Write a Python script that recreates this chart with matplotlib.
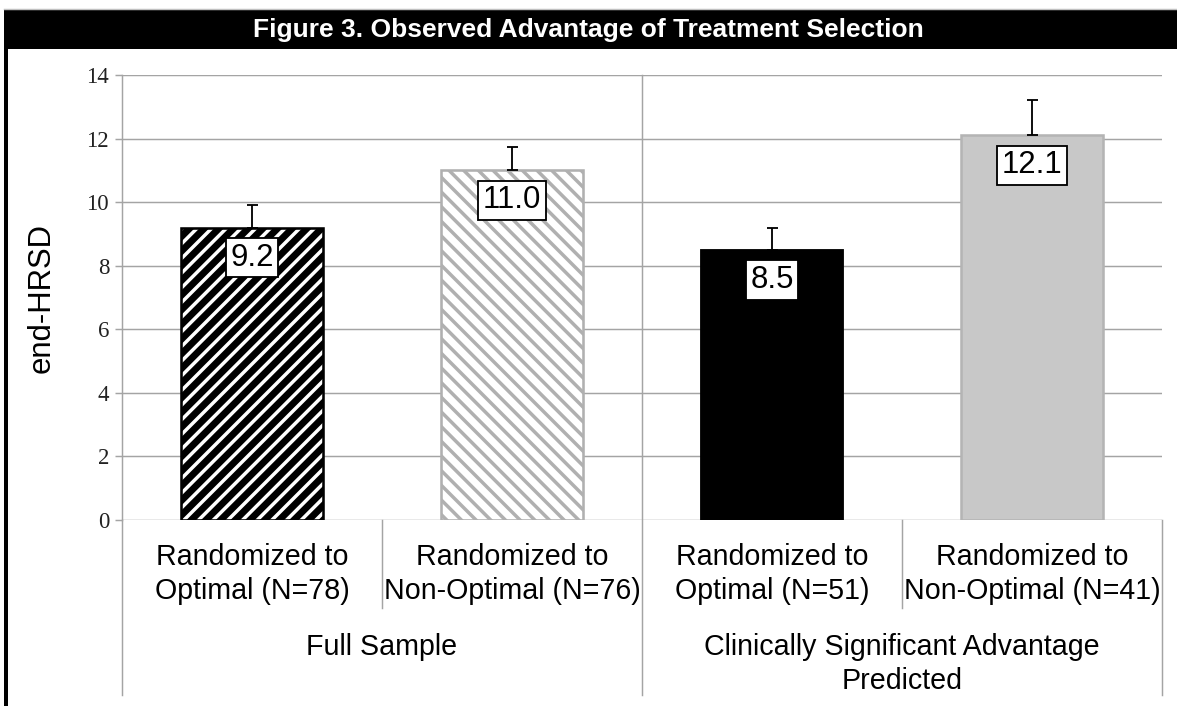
import numpy as np
import matplotlib.pyplot as plt
from matplotlib.patches import Rectangle
from matplotlib.lines import Line2D

# data
groups = ['Full Sample', 'Clinically Significant Advantage\nPredicted']
labels = ['Randomized to\nOptimal (N=78)', 'Randomized to\nNon-Optimal (N=76)',
          'Randomized to\nOptimal (N=51)', 'Randomized to\nNon-Optimal (N=41)']
means = [9.2, 11.0, 8.5, 12.1]
errs = [0.7, 0.75, 0.7, 1.1]

W, H, DPI = 1177, 706, 132
plt.rcParams['font.family'] = ['Liberation Sans', 'DejaVu Sans']
plt.rcParams['hatch.linewidth'] = 1.9

fig = plt.figure(figsize=(W / DPI, H / DPI), dpi=DPI)
ax = fig.add_axes([122 / W, 1 - 520 / H, 1040 / W, 445 / H])

grid_c = '#a4a4a4'
x = np.arange(len(means))
bw = 0.545

# bar 1: black with white stripes
ax.bar(x[0], means[0], bw, color='black', edgecolor='white', hatch='///', linewidth=0, zorder=2)
ax.bar(x[0], means[0], bw, fill=False, edgecolor='black', linewidth=1.4, zorder=3)
# bar 2: white with gray stripes
ax.bar(x[1], means[1], bw, color='white', edgecolor='#b0b0b0', hatch='\\\\\\', linewidth=0, zorder=2)
ax.bar(x[1], means[1], bw, fill=False, edgecolor='#b0b0b0', linewidth=1.4, zorder=3)
# bar 3, 4 solid
ax.bar(x[2], means[2], bw, color='black', edgecolor='black', linewidth=1.0, zorder=2)
ax.bar(x[3], means[3], bw, color='#c8c8c8', edgecolor='#b4b4b4', linewidth=1.4, zorder=2)

ax.errorbar(x, means, yerr=[np.zeros(len(errs)), errs], fmt='none', ecolor='black',
            elinewidth=1.0, capsize=3, capthick=1.0, zorder=4)

for xi, v in zip(x, means):
    ax.annotate(f'{v:.1f}', xy=(xi, v), xytext=(0, -8.2), textcoords='offset points',
                ha='center', va='top', fontsize=17, zorder=5,
                bbox=dict(boxstyle='square,pad=0.15', fc='white', ec='black', lw=1.0))

ax.set_xlim(-0.5, 3.5)
ax.set_ylim(0, 14)
ax.set_yticks(np.arange(0, 15, 2))
ax.set_yticklabels([str(t) for t in range(0, 15, 2)], fontfamily='Liberation Serif', fontsize=12.5)
ax.tick_params(axis='y', length=4, width=0.8, color=grid_c, pad=3, labelcolor='#222222')
ax.set_xticks([])
ax.grid(axis='y', color=grid_c, linewidth=0.8, zorder=0)
ax.set_axisbelow(True)
for s in ['top', 'right', 'bottom']:
    ax.spines[s].set_visible(False)
ax.spines['left'].set_color(grid_c)
ax.spines['left'].set_linewidth(0.8)

# multi-level category axis
lo1 = -(608 - 520) / 445
lo2 = -(695 - 520) / 445
tr = ax.get_xaxis_transform()
for xb, y0, y1 in [(-0.5, lo2, 0), (0.5, lo1, 0), (1.5, lo2, 1.0), (2.5, lo1, 0), (3.5, lo2, 0)]:
    ax.add_line(Line2D([xb, xb], [y0, y1], transform=tr, color=grid_c, lw=0.8, clip_on=False, zorder=1))

for xi, lab in zip(x, labels):
    ax.annotate(lab, xy=(xi, 0), xycoords=tr, xytext=(0, -29.4), textcoords='offset points',
                ha='center', va='center', fontsize=15.6, linespacing=1.25)
for gi, g in enumerate(groups):
    ax.annotate(g, xy=(2 * gi + 0.5, 0), xycoords=tr, xytext=(0, -61.8), textcoords='offset points',
                ha='center', va='top', fontsize=15.6, linespacing=1.27)

fig.text(42 / W, 1 - 298 / H, 'end-HRSD', rotation=90, ha='center', va='center', fontsize=17)

# title bar and frame
fig.add_artist(Rectangle((4 / W, 1 - 49 / H), 1 - 4 / W, 39 / H, transform=fig.transFigure,
                         facecolor='black', edgecolor='none'))
fig.add_artist(Line2D([4 / W, 1], [1 - 9 / H, 1 - 9 / H], transform=fig.transFigure, color='#c0c0c0', lw=0.8))
fig.add_artist(Rectangle((4 / W, 0), 4 / W, 1 - 10 / H, transform=fig.transFigure,
                         facecolor='black', edgecolor='none'))
fig.text(0.5, 1 - 29.5 / H, 'Figure 3. Observed Advantage of Treatment Selection', color='white',
         fontweight='bold', fontsize=14.4, ha='center', va='center')

fig.savefig('out.png', dpi=DPI)
